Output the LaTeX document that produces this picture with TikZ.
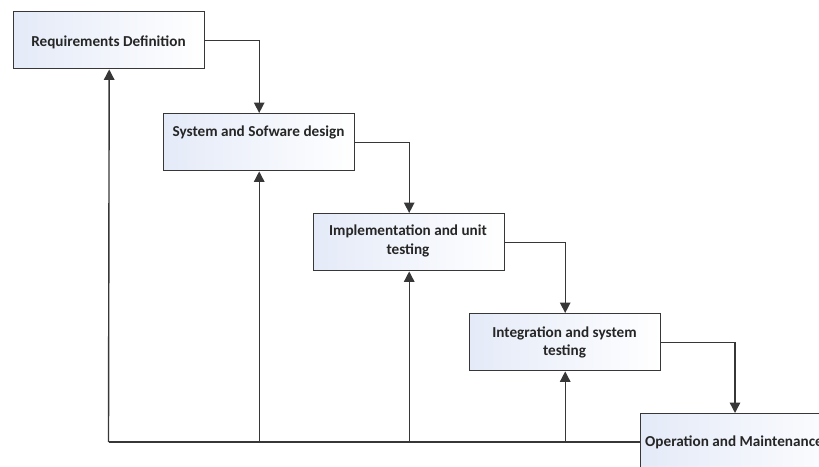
\documentclass[tikz,border=0pt]{standalone}
\usepackage{fontspec}
\setmainfont{Carlito}
\usetikzlibrary{arrows.meta}
\definecolor{edge}{RGB}{55,55,55}
\definecolor{boxblue}{RGB}{228,234,248}
\tikzset{
  box/.style={draw=edge, line width=1.4pt, anchor=north west, minimum width=191pt, minimum height=57pt, inner sep=0pt, left color=boxblue, right color=white},
  lbl/.style={font=\bfseries\fontsize{15.2}{18.5}\selectfont, text=black!85, align=center, inner sep=0pt},
  arr/.style={draw=edge, line width=1.4pt, -{Triangle[length=10.5pt,width=10.5pt]}},
  ln/.style={draw=edge, line width=1.4pt}
}
\begin{document}
\begin{tikzpicture}[x=1pt,y=-1pt]
\useasboundingbox (0,0) rectangle (819,466);
\node[box] (b1) at (13,11) {};
\node[box] (b2) at (163,113) {};
\node[box] (b3) at (313,213) {};
\node[box] (b4) at (469,313) {};
\node[box, minimum width=220pt] (b5) at (640,413) {};
\node[lbl] (t1) at (108.5,42) {Requirements Definition};
\node[lbl] (t2) at (258.5,132) {System and Sofware design};
\node[lbl] (t3) at (408,241) {Implementation and unit\\testing};
\node[lbl] (t4) at (564.5,342.5) {Integration and system\\testing};
\node[lbl, anchor=west] (t5) at (645,442) {Operation and Maintenance};
\coordinate (in5) at (735,413);
\draw[arr] (b1.east) -| (b2.north);
\draw[arr] (b2.east) -| (b3.north);
\draw[arr] (b3.east) -| (b4.north);
\draw[arr] (b4.east) -| (in5);
\coordinate (fb) at (108.5,442);
\draw[ln] (b5.west |- fb) -- (fb);
\draw[arr] (fb) -- (b1.south);
\draw[arr] (b2.south |- fb) -- (b2.south);
\draw[arr] (b3.south |- fb) -- (b3.south);
\draw[arr] (b4.south |- fb) -- (b4.south);
\end{tikzpicture}
\end{document}
